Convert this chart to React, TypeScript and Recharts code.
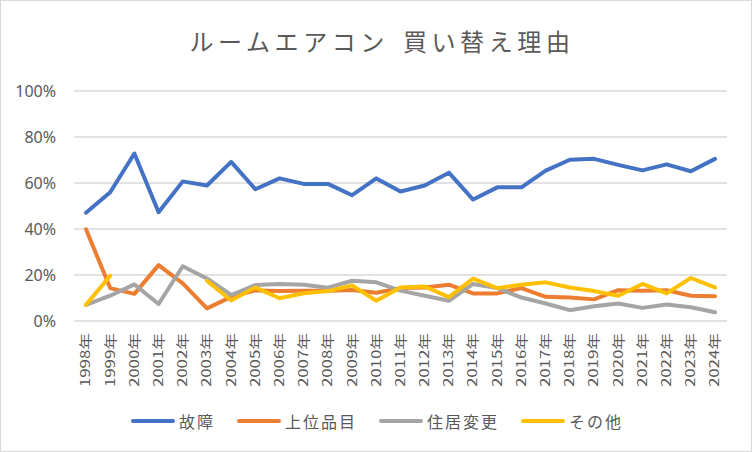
import { CartesianGrid, Legend, Line, LineChart, XAxis, YAxis } from 'recharts';

const title = 'ルームエアコン 買い替え理由';

const years = [
  '1998年', '1999年', '2000年', '2001年', '2002年', '2003年', '2004年', '2005年', '2006年',
  '2007年', '2008年', '2009年', '2010年', '2011年', '2012年', '2013年', '2014年', '2015年',
  '2016年', '2017年', '2018年', '2019年', '2020年', '2021年', '2022年', '2023年', '2024年',
];

// 値は % で読み取り
const koshou = [
  47.1, 56.0, 72.8, 47.3, 60.7, 58.9, 69.2, 57.3, 62.0, 59.6, 59.6, 54.7, 62.0, 56.3,
  58.9, 64.5, 52.8, 58.1, 58.1, 65.4, 70.1, 70.5, 67.9, 65.5, 68.1, 65.1, 70.5,
];
const jouiHinmoku = [
  39.9, 14.3, 11.8, 24.3, 16.4, 5.5, 10.5, 13.3, 13.0, 13.2, 13.2, 13.5, 12.3, 14.3,
  14.6, 15.8, 12.0, 12.0, 14.3, 10.5, 10.2, 9.4, 13.4, 13.2, 13.4, 11.0, 10.8,
];
const juukyoHenkou = [
  7.0, 11.0, 15.9, 7.4, 23.8, 18.5, 11.3, 15.6, 16.1, 15.8, 14.5, 17.5, 16.8, 13.2,
  11.0, 8.8, 16.1, 14.3, 10.2, 7.6, 4.7, 6.4, 7.6, 5.7, 7.2, 6.0, 3.8,
];
// 2000〜2002年は欠測
const sonota = [
  7.0, 19.7, null, null, null, 17.5, 8.9, 14.6, 9.9, 12.1, 13.0, 15.5, 8.8, 14.6,
  15.0, 10.4, 18.4, 14.3, 15.8, 16.8, 14.6, 13.0, 11.0, 16.1, 12.0, 18.7, 14.6,
];

const yTicks = [0, 20, 40, 60, 80, 100];

const series = [
  { key: 'koshou', name: '故障', color: '#4472C4', values: koshou },
  { key: 'joui', name: '上位品目', color: '#ED7D31', values: jouiHinmoku },
  { key: 'juukyo', name: '住居変更', color: '#A5A5A5', values: juukyoHenkou },
  { key: 'sonota', name: 'その他', color: '#FFC000', values: sonota },
];

const data = years.map((year, i) => {
  const row: Record<string, string | number | null> = { year };
  for (const s of series) row[s.key] = s.values[i];
  return row;
});

const INK = '#595959';
const JP_FONT = '"Noto Sans CJK JP", "Noto Sans", sans-serif';

function YearTick({ x, y, payload }: any) {
  return (
    <g transform={`translate(${x},${y})`}>
      <text
        transform="rotate(-90) scale(1.2,0.9)"
        textAnchor="end"
        dy="0.35em"
        fontSize={14}
        fill={INK}
        fontFamily={JP_FONT}
      >
        {payload.value}
      </text>
    </g>
  );
}

// 凡例はシリーズ定義の順に並べる（Recharts の既定ソートを避ける）
function LegendContent() {
  return (
    <div
      style={{
        display: 'flex',
        justifyContent: 'center',
        alignItems: 'center',
        height: 24,
        paddingLeft: 24,
        fontFamily: JP_FONT,
        fontSize: 16,
        letterSpacing: 2,
        color: INK,
      }}
    >
      {series.map((s) => (
        <div key={s.key} style={{ display: 'flex', alignItems: 'center', marginRight: 22 }}>
          <span
            style={{
              display: 'inline-block',
              width: 44,
              height: 4,
              borderRadius: 2,
              background: s.color,
              marginRight: 4,
            }}
          />
          <span style={{ lineHeight: '24px' }}>{s.name}</span>
        </div>
      ))}
    </div>
  );
}

export default function App() {
  return (
    <div
      style={{
        position: 'absolute',
        left: 0,
        top: 0,
        width: 752,
        height: 452,
        background: '#fff',
      }}
    >
      <div
        style={{
          position: 'absolute',
          left: 0,
          top: 29,
          width: 752,
          textAlign: 'center',
          fontFamily: JP_FONT,
          fontSize: 24,
          lineHeight: '24px',
          letterSpacing: 4.6,
          wordSpacing: 4,
          color: INK,
          paddingLeft: 6,
        }}
      >
        {title}
      </div>
      <div style={{ position: 'absolute', left: 0, top: 0 }}>
        <LineChart
          width={752}
          height={452}
          data={data}
          margin={{ top: 91, right: 25, bottom: 19, left: 0 }}
        >
          <CartesianGrid stroke="#D9D9D9" strokeWidth={1.3} vertical={false} />
          <XAxis
            dataKey="year"
            interval={0}
            tickLine={false}
            axisLine={false}
            tickSize={0}
            tickMargin={12}
            height={88}
            padding={{ left: 12, right: 12 }}
            tick={<YearTick />}
          />
          <YAxis
            domain={[0, 100]}
            ticks={yTicks}
            width={74}
            tickLine={false}
            axisLine={false}
            tickSize={0}
            tickMargin={18}
            tickFormatter={(v: number) => `${v}%`}
            tick={{ fontSize: 16, fill: INK, fontFamily: '"Noto Sans", sans-serif' }}
          />
          <Legend
            verticalAlign="bottom"
            content={<LegendContent />}
            wrapperStyle={{ left: 0, width: 752 }}
          />
          {series.map((s) => (
            <Line
              key={s.key}
              type="linear"
              dataKey={s.key}
              name={s.name}
              stroke={s.color}
              strokeWidth={4}
              strokeLinecap="round"
              strokeLinejoin="round"
              dot={false}
              activeDot={false}
              isAnimationActive={false}
            />
          ))}
        </LineChart>
      </div>
      <div
        style={{
          position: 'absolute',
          left: 0,
          top: 0,
          width: 752,
          height: 452,
          boxSizing: 'border-box',
          border: '1px solid #D9D9D9',
          pointerEvents: 'none',
        }}
      />
    </div>
  );
}
